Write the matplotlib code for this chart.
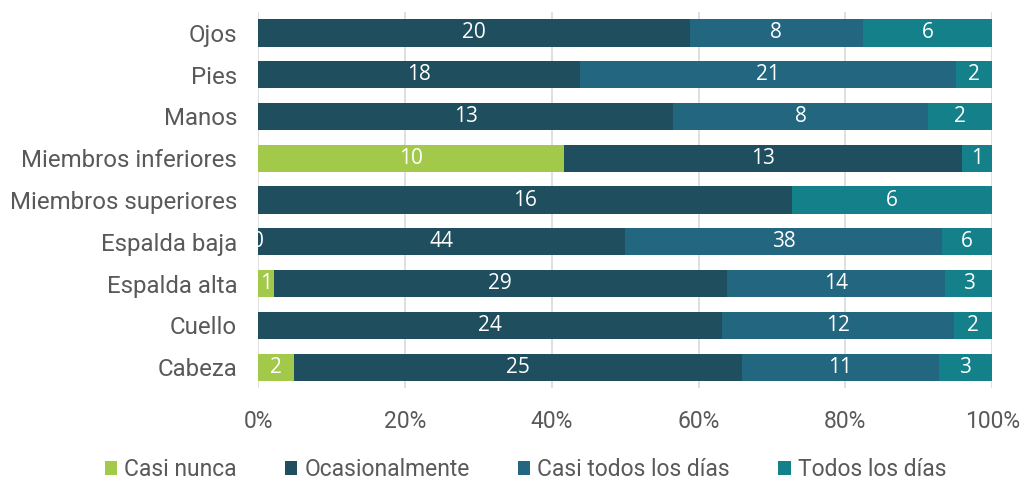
import matplotlib
matplotlib.use("Agg")
import matplotlib.pyplot as plt
import numpy as np

categories = ["Cabeza", "Cuello", "Espalda alta", "Espalda baja", "Miembros superiores",
              "Miembros inferiores", "Manos", "Pies", "Ojos"]
series = ["Casi nunca", "Ocasionalmente", "Casi todos los días", "Todos los días"]
# None = no data (no label); 0 = labelled zero
casi_nunca = [2, None, 1, 0, None, 10, None, None, None]
ocasionalmente = [25, 24, 29, 44, 16, 13, 13, 18, 20]
casi_todos = [11, 12, 14, 38, None, None, 8, 21, 8]
todos = [3, 2, 3, 6, 6, 1, 2, 2, 6]
colors = ["#A2C94A", "#1F4E5F", "#22667F", "#13808A"]

raw = [casi_nunca, ocasionalmente, casi_todos, todos]
vals = np.array([[0 if v is None else v for v in s] for s in raw], dtype=float)
pct = vals / vals.sum(axis=0) * 100

fig = plt.figure(figsize=(10.24, 4.82), dpi=100)
ax = fig.add_axes([0.252, 0.195, 0.717, 0.78])
y = np.arange(len(categories))
left = np.zeros(len(categories))
for i, name in enumerate(series):
    ax.barh(y, pct[i], left=left, height=0.65, color=colors[i], label=name, zorder=2)
    for j in range(len(categories)):
        if raw[i][j] is None:
            continue
        ax.text(left[j] + pct[i][j] / 2, y[j], str(raw[i][j]), ha="center", va="center",
                color="white", fontsize=15, family="Open Sans", zorder=3, clip_on=True)
    left += pct[i]

ax.set_xlim(0, 100)
ax.set_ylim(-0.5, len(categories) - 0.5)
ax.set_yticks(y)
ax.set_yticklabels(categories, family="Roboto", fontsize=17.3, color="#595959")
ax.set_xticks(np.arange(0, 101, 20))
ax.set_xticklabels([f"{t}%" for t in range(0, 101, 20)], family="Roboto", fontsize=16.5, color="#595959")
ax.tick_params(axis="y", length=0, pad=15)
ax.tick_params(axis="x", length=0, pad=16)
ax.grid(axis="x", color="#D9D9D9", linewidth=1.2, zorder=0)
for s in ax.spines.values():
    s.set_visible(False)

fig.legend(*ax.get_legend_handles_labels(), loc="center", bbox_to_anchor=(0.513, 0.026), ncol=4,
           frameon=False, prop={"family": "Roboto", "size": 16.5}, handlelength=0.55,
           handleheight=0.55, handletextpad=0.3, columnspacing=2.1, labelcolor="#595959")

fig.savefig("out.png", dpi=100)
